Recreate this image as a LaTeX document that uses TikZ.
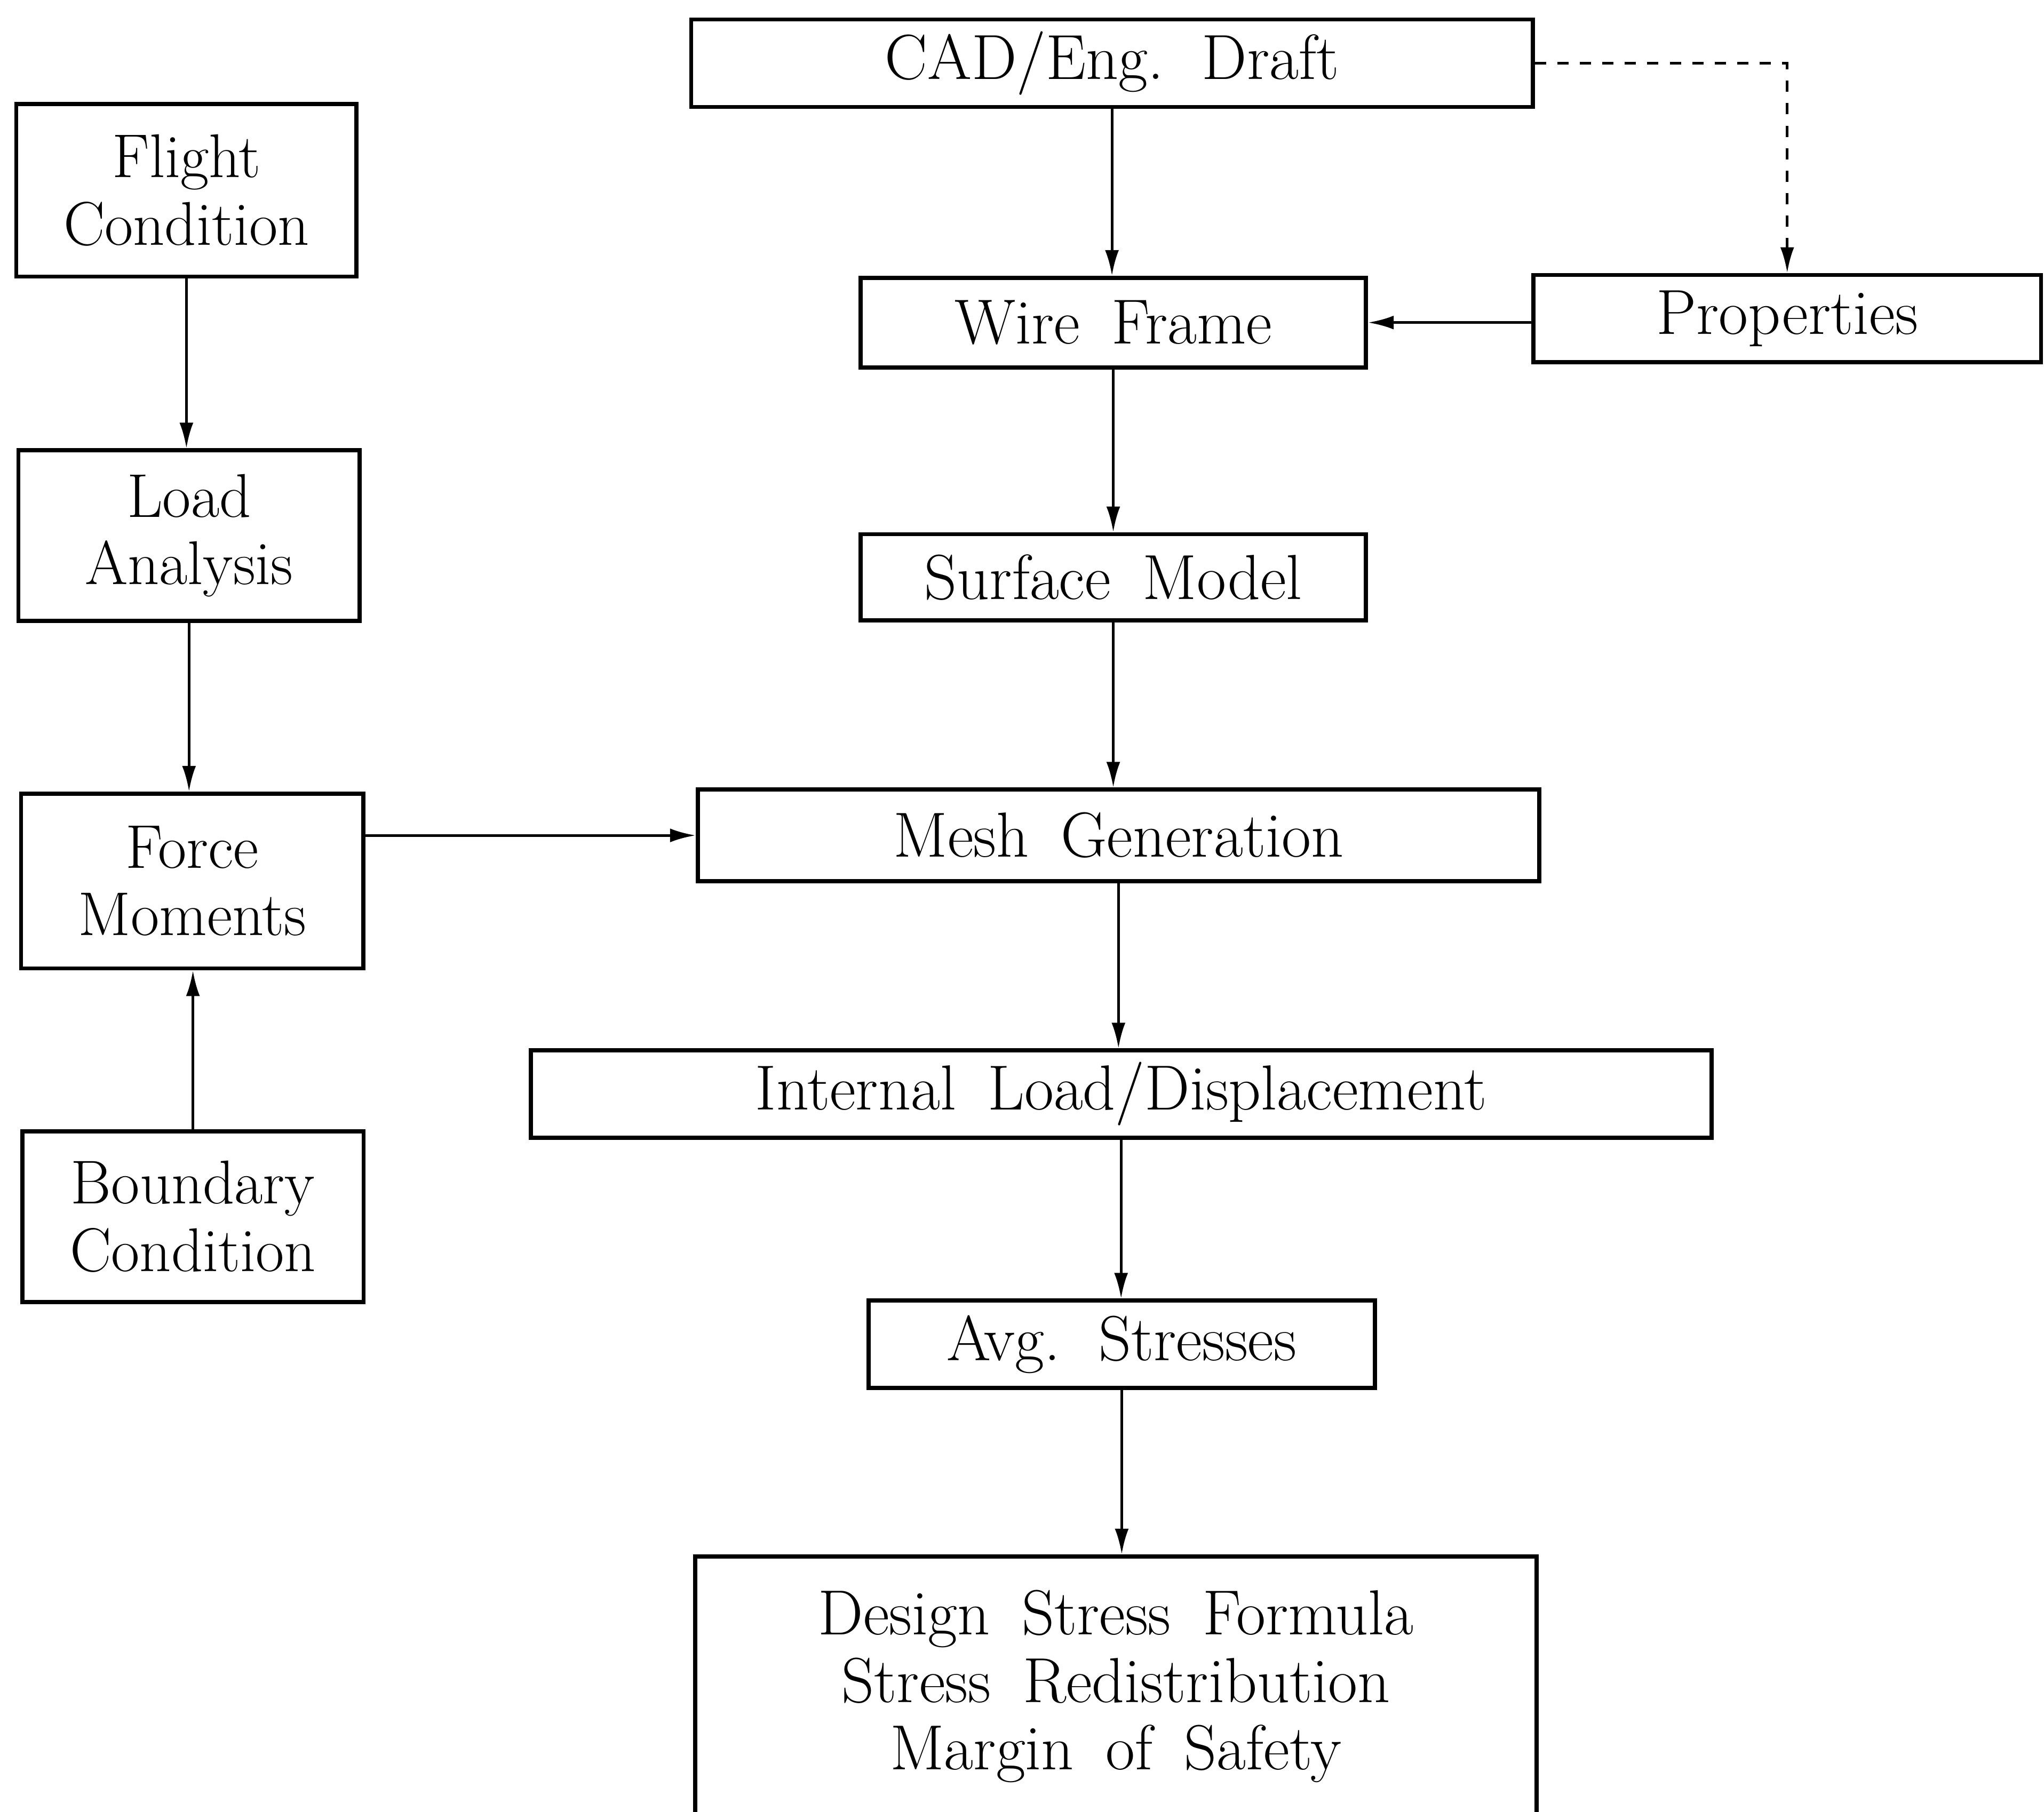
\documentclass[tikz,border=0pt]{standalone}
\usetikzlibrary{positioning, arrows.meta}

\newcommand{\mainfont}{\fontsize{17}{18}\selectfont\spaceskip=0.5em plus 0.1em\relax}

\begin{document}
\begin{tikzpicture}[
    x=0.012216cm, y=-0.012216cm,
    % Styles
    leftbox/.style={draw, line width=1.1pt, align=center, inner sep=0pt,
        font=\fontsize{16.5}{18}\selectfont},
    mainbox/.style={draw, line width=1.1pt, align=center, inner sep=0pt,
        font=\mainfont},
    flow/.style={-{Latex[length=2.4mm,width=1.3mm]}, line width=0.7pt},
    dashflow/.style={-{Latex[length=2.4mm,width=1.3mm]}, line width=0.7pt, dashed},
]
\useasboundingbox (0,0) rectangle (1568,1390);

% LEFT COLUMN: loads
\node[leftbox, minimum width=3.19cm, minimum height=1.62cm] (flight) at (143,146) {Flight\\Condition};
\node[leftbox, minimum width=3.20cm, minimum height=1.60cm] (load) at (145,411) {Load\\Analysis};
\node[leftbox, minimum width=3.21cm, minimum height=1.64cm] (force) at (147.5,676) {Force\\Moments};
\node[leftbox, minimum width=3.20cm, minimum height=1.60cm] (boundary) at (148,933.5) {Boundary\\Condition};

% RIGHT COLUMN: model chain
\node[mainbox, minimum width=7.89cm, minimum height=0.82cm] (cad) at (853,48.5) {CAD/Eng. Draft};
\node[mainbox, minimum width=4.74cm, minimum height=0.84cm] (wire) at (854,247.5) {Wire Frame};
\node[mainbox, minimum width=4.76cm, minimum height=0.82cm] (props) at (1371,244.5) {Properties};
\node[mainbox, minimum width=4.74cm, minimum height=0.81cm] (surface) at (854,443) {Surface Model};
\node[mainbox, minimum width=7.89cm, minimum height=0.86cm] (mesh) at (858,641) {Mesh Generation};
\node[mainbox, minimum width=11.07cm, minimum height=0.82cm] (internal) at (860,839.5) {Internal Load/Displacement};
\node[mainbox, minimum width=4.75cm, minimum height=0.82cm] (avg) at (860.5,1031.5) {Avg. Stresses};
\node[mainbox, minimum width=7.89cm, minimum height=2.44cm] (design) at (856,1294) {Design Stress Formula\\Stress Redistribution\\Margin of Safety};

% Arrows
\draw[flow] (flight) -- (flight |- load.north);
\draw[flow] (load) -- (load |- force.north);
\draw[flow] (boundary) -- (boundary |- force.south);
\draw[flow] (force.east |- mesh.west) -- (mesh.west);

\draw[flow] (cad) -- (cad |- wire.north);
\draw[dashflow] (cad.east) -| (props.north);
\draw[flow] (props.west |- wire.east) -- (wire.east);
\draw[flow] (wire) -- (wire |- surface.north);
\draw[flow] (surface) -- (surface |- mesh.north);
\draw[flow] (mesh) -- (mesh |- internal.north);
\draw[flow] (internal) -- (internal |- avg.north);
\draw[flow] (avg) -- (avg |- design.north);

\end{tikzpicture}
\end{document}
